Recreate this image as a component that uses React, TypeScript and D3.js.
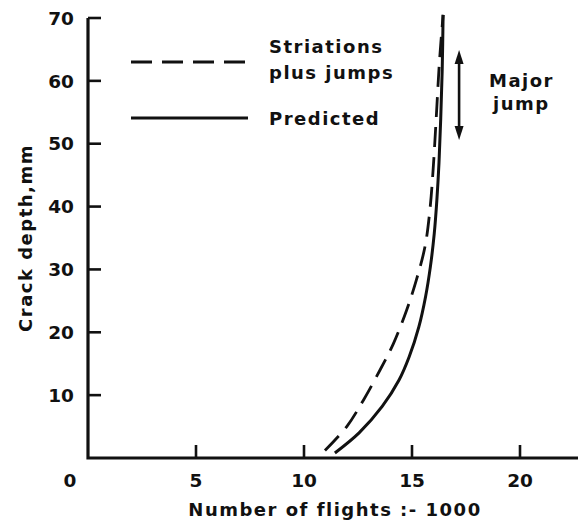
import React, { useEffect, useRef } from 'react'
import * as d3 from 'd3'

// Predicted curve (flights / 1000 vs crack depth mm)
const predictedFlights = [11.43, 12.55, 13.62, 14.4, 14.87, 15.32, 15.63, 15.85, 16.03, 16.15, 16.25, 16.33, 16.4, 16.44]
const predictedDepth = [0.8, 4.0, 8.2, 12.4, 16.1, 20.9, 25.7, 30.4, 35.7, 41, 47, 54, 62, 70.5]

// Striations plus jumps curve
const striationFlights = [10.97, 11.98, 12.75, 13.52, 14.14, 14.75, 15.2, 15.6, 15.83, 15.98, 16.12, 16.27, 16.44]
const striationDepth = [1.2, 5.0, 9.2, 14.0, 18.2, 23.5, 28.3, 33.6, 39.5, 46, 54, 63, 70.5]

const xTicks = [5, 10, 15, 20]
const yTicks = [10, 20, 30, 40, 50, 60, 70]

// major jump arrow: flights position and depth span
const jumpFlights = 17.18
const jumpDepth = [50.6, 64.9]

const W = 578
const H = 522
const FONT = '"DejaVu Sans", sans-serif'

const App: React.FC = () => {
  const svgRef = useRef<SVGSVGElement | null>(null)

  useEffect(() => {
    if (!svgRef.current) return
    const svg = d3.select(svgRef.current)
    svg.selectAll('*').remove()

    const x = d3.scaleLinear().domain([0, 20]).range([88, 520])
    const y = d3.scaleLinear().domain([0, 70]).range([458, 18])
    const ink = '#111'

    // axes
    svg
      .append('path')
      .attr('d', `M${x(0)},${y(70)}V${y(0)}H${W}`)
      .attr('fill', 'none')
      .attr('stroke', ink)
      .attr('stroke-width', 3.2)

    svg
      .append('g')
      .selectAll('line')
      .data(yTicks)
      .join('line')
      .attr('x1', x(0))
      .attr('x2', x(0) + 13)
      .attr('y1', (d) => y(d))
      .attr('y2', (d) => y(d))
      .attr('stroke', ink)
      .attr('stroke-width', 2.6)

    svg
      .append('g')
      .selectAll('text')
      .data(yTicks)
      .join('text')
      .attr('x', x(0) - 14)
      .attr('y', (d) => y(d))
      .attr('dy', '0.36em')
      .attr('text-anchor', 'end')
      .attr('font-family', FONT)
      .attr('font-weight', 'bold')
      .attr('font-size', 18.5)
      .attr('fill', ink)
      .text((d) => d)

    svg
      .append('g')
      .selectAll('line')
      .data(xTicks)
      .join('line')
      .attr('x1', (d) => x(d))
      .attr('x2', (d) => x(d))
      .attr('y1', y(0))
      .attr('y2', y(0) - 13)
      .attr('stroke', ink)
      .attr('stroke-width', 2.6)

    svg
      .append('g')
      .selectAll('text')
      .data([0, ...xTicks])
      .join('text')
      .attr('x', (d) => (d === 0 ? x(0) - 18 : x(d)))
      .attr('y', 487)
      .attr('text-anchor', 'middle')
      .attr('font-family', FONT)
      .attr('font-weight', 'bold')
      .attr('font-size', 18.5)
      .attr('fill', ink)
      .text((d) => d)

    // axis titles
    svg
      .append('text')
      .attr('x', 335)
      .attr('y', 516)
      .attr('text-anchor', 'middle')
      .attr('font-family', FONT)
      .attr('font-weight', 'bold')
      .attr('font-size', 18)
      .attr('letter-spacing', 1.5)
      .attr('fill', ink)
      .text('Number  of  flights  :- 1000')

    svg
      .append('text')
      .attr('transform', 'translate(32,238) rotate(-90)')
      .attr('text-anchor', 'middle')
      .attr('font-family', FONT)
      .attr('font-weight', 'bold')
      .attr('font-size', 18)
      .attr('letter-spacing', 1.5)
      .attr('fill', ink)
      .text('Crack  depth,mm')

    // curves
    const line = d3
      .line<[number, number]>()
      .x((d) => x(d[0]))
      .y((d) => y(d[1]))
      .curve(d3.curveCatmullRom.alpha(0.5))

    const pred = predictedFlights.map((f, i) => [f, predictedDepth[i]] as [number, number])
    const stri = striationFlights.map((f, i) => [f, striationDepth[i]] as [number, number])

    svg
      .append('path')
      .attr('d', line(stri))
      .attr('fill', 'none')
      .attr('stroke', ink)
      .attr('stroke-width', 2.8)
      .attr('stroke-dasharray', '20 10')

    svg
      .append('path')
      .attr('d', line(pred))
      .attr('fill', 'none')
      .attr('stroke', ink)
      .attr('stroke-width', 3)

    // legend
    const lg = svg
      .append('g')
      .attr('font-family', FONT)
      .attr('font-weight', 'bold')
      .attr('font-size', 18)
      .attr('fill', ink)
    lg.append('line')
      .attr('x1', 131).attr('x2', 248).attr('y1', 62).attr('y2', 62)
      .attr('stroke', ink).attr('stroke-width', 2.8).attr('stroke-dasharray', '21 10')
    lg.append('line')
      .attr('x1', 131).attr('x2', 248).attr('y1', 118).attr('y2', 118)
      .attr('stroke', ink).attr('stroke-width', 3)
    lg.append('text').attr('x', 269).attr('y', 53).attr('letter-spacing', 1.5).text('Striations')
    lg.append('text').attr('x', 269).attr('y', 79).attr('letter-spacing', 1.5).text('plus jumps')
    lg.append('text').attr('x', 269).attr('y', 125).attr('letter-spacing', 1.5).text('Predicted')

    // major jump arrow
    const ax = x(jumpFlights)
    const yTop = y(jumpDepth[1])
    const yBot = y(jumpDepth[0])
    svg
      .append('line')
      .attr('x1', ax).attr('x2', ax)
      .attr('y1', yTop + 8).attr('y2', yBot - 8)
      .attr('stroke', ink).attr('stroke-width', 2.6)
    svg
      .append('path')
      .attr('d', `M${ax},${yTop}L${ax - 4.5},${yTop + 14}L${ax + 4.5},${yTop + 14}Z`)
      .attr('fill', ink)
    svg
      .append('path')
      .attr('d', `M${ax},${yBot}L${ax - 4.5},${yBot - 14}L${ax + 4.5},${yBot - 14}Z`)
      .attr('fill', ink)
    lg.append('text').attr('x', 489).attr('y', 87).attr('letter-spacing', 1.5).text('Major')
    lg.append('text').attr('x', 493).attr('y', 110).attr('letter-spacing', 1.5).text('jump')
  }, [])

  return (
    <svg
      ref={svgRef}
      width={W}
      height={H}
      style={{ position: 'absolute', left: 0, top: 0, background: '#fff' }}
    ></svg>
  )
}

export default App
